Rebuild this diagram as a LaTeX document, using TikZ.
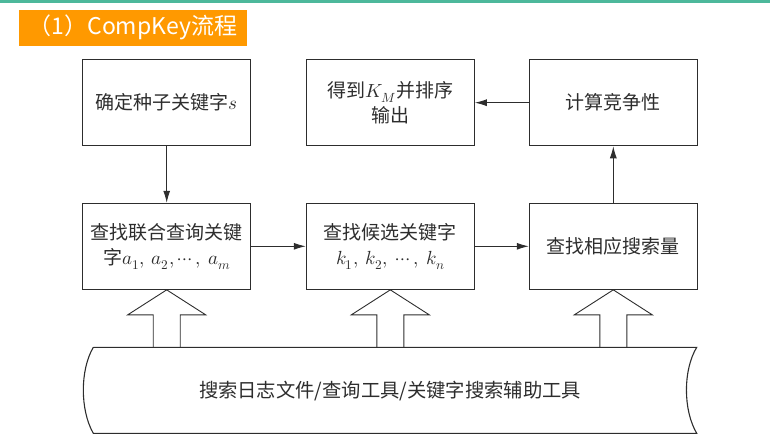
\documentclass[tikz,border=0pt]{standalone}
\usepackage{fontspec}
\usepackage{unicode-math}
\setmainfont{Noto Sans CJK SC}
\setmathfont{Latin Modern Math}
\usetikzlibrary{arrows.meta}
\definecolor{topline}{RGB}{77,184,155}
\definecolor{tagorange}{RGB}{255,153,0}
\definecolor{ink}{RGB}{45,45,45}

\begin{document}
\begin{tikzpicture}[x=1pt,y=-1pt,
  box/.style={draw=ink,line width=1.1pt,minimum width=168pt,minimum height=86pt,
    inner sep=2pt,align=center,text=ink,font=\fontsize{19}{25}\selectfont},
  flow/.style={draw=ink,line width=0.9pt,-{Latex[length=12pt,width=7pt]}},
  hollow/.style={draw=ink,line width=0.9pt}]
\useasboundingbox (0,0) rectangle (770,441);
\fill[topline] (0,0) rectangle (770,2.7);
\node[fill=tagorange,text=white,minimum width=227.7pt,minimum height=35.7pt,
  inner sep=0pt,font=\fontsize{23}{23}\selectfont] (tag) at (132.8,27.8) {（1）CompKey流程};

% upper row
\node[box] (seed) at (166.7,102.7) {确定种子关键字$s$};
\node[box] (sorted) at (390.3,102.7) {得到$K_M$并排序\\输出};
\node[box] (comp) at (613.3,102.7) {计算竞争性};

% lower row
\node[box] (joint) at (166.7,246.3) {查找联合查询关键\\字$a_1,\ a_2,\cdots,\ a_m$};
\node[box] (cand) at (390.3,246.3) {查找候选关键字\\$k_1,\ k_2,\ \cdots,\ k_n$};
\node[box] (vol) at (613.3,246.3) {查找相应搜索量};

\draw[flow] (seed) -- (joint);
\draw[flow] (joint) -- (cand);
\draw[flow] (cand) -- (vol);
\draw[flow] (vol) -- (comp);
\draw[flow] (comp) -- (sorted);

% tool band
\draw[ink,line width=1.1pt] (93.3,347.3) -- (696.7,347.3)
  .. controls (683,370) and (683,410) .. (696.7,433.3) -- (93.3,433.3)
  .. controls (80,410) and (80,370) .. (93.3,347.3);
\node[text=ink,font=\fontsize{19.3}{25}\selectfont] (logs) at (390,391)
  {搜索日志文件/查询工具/关键字搜索辅助工具};

\foreach \b in {joint,cand,vol}
  \draw[hollow] (\b.south) -- ++(-39,25) -- ++(25.5,0) -- ++(0,33)
    (\b.south) -- ++(39,25) -- ++(-25.5,0) -- ++(0,33);
\end{tikzpicture}
\end{document}
